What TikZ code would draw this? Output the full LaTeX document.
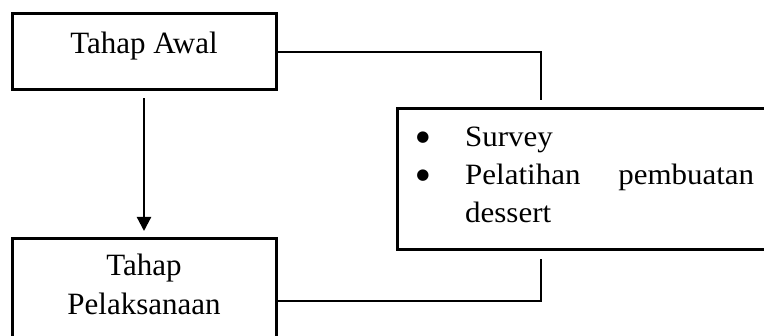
\documentclass[tikz,border=0pt]{standalone}
\usepackage{fontspec}
\setmainfont{Liberation Serif}
\newfontfamily\widefont[FakeStretch=1.05]{Liberation Serif}
\newfontfamily\bulfont{DejaVu Sans}
\usetikzlibrary{arrows.meta}
\begin{document}
\begin{tikzpicture}[x=1pt,y=-1pt,
  boxstyle/.style={draw,line width=3pt,rectangle,inner sep=0pt},
  conn/.style={draw,line width=1.3pt},
  lbl/.style={font=\fontsize{31}{39}\selectfont,inner sep=0pt,align=center},
  rtxt/.style={font=\widefont\fontsize{29.5}{38}\selectfont,inner sep=0pt,anchor=base west},
  bul/.style={font=\bulfont\fontsize{15}{18}\selectfont,inner sep=0pt}]
\useasboundingbox (0,0) rectangle (764,336);
% left boxes
\node[boxstyle,minimum width=264pt,minimum height=76pt] (awal) at (144,52) {};
\node[lbl,anchor=base] (tawal) at (144,54) {Tahap Awal};
\node[boxstyle,minimum width=264pt,minimum height=150pt,anchor=north] (pel) at (144,237) {};
\node[lbl,anchor=base] (tpel1) at (144,276) {Tahap};
\node[lbl,anchor=base] (tpel2) at (144,315) {Pelaksanaan};
% right box
\node[boxstyle,minimum width=400pt,minimum height=141pt,anchor=north west] (rbox) at (396,107) {};
\node[bul] (b1) at (423,138) {●};
\node[bul] (b2) at (423,176) {●};
\node[rtxt] (s1) at (465,147) {Survey};
\node[rtxt] (s2) at (465,185) {\makebox[289pt][s]{Pelatihan pembuatan}};
\node[rtxt] (s3) at (465,223) {dessert};
% connectors
\coordinate (c1) at (541,100);
\coordinate (c2) at (541,259);
\coordinate (c3) at (541,301);
\draw[conn] (awal.east) -| (c1);
\draw[conn] (pel.east |- c3) -| (c2);
\draw[line width=2.2pt,-{Triangle[width=14pt,length=14pt]},shorten <=7pt,shorten >=6pt] (awal.south) -- (pel.north);
\end{tikzpicture}
\end{document}
